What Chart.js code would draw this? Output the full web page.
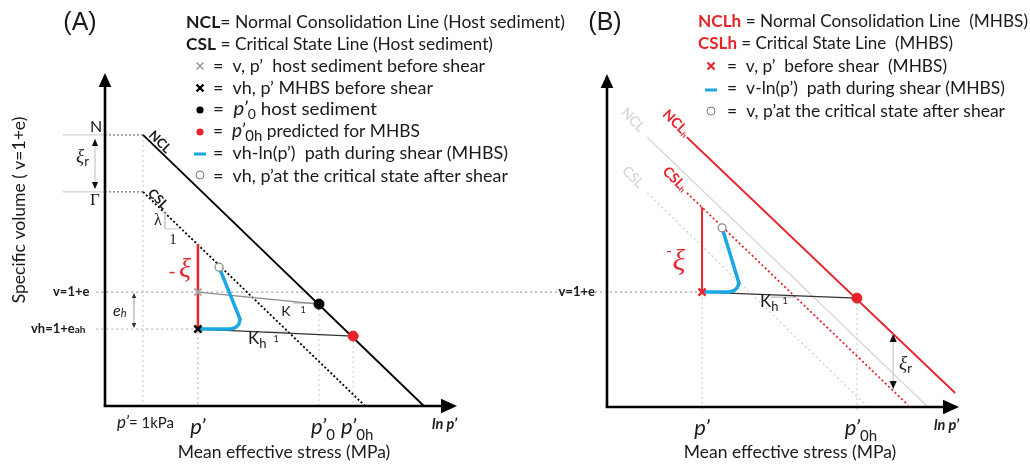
<!DOCTYPE html>
<html>
<head>
<meta charset="utf-8">
<script src="https://cdn.jsdelivr.net/npm/chart.js@4.4.0/dist/chart.umd.min.js"></script>
<style>
  body { margin: 0; background: #fff; width: 1030px; height: 464px; position: relative; overflow: hidden; }
  canvas { position: absolute; top: 0; }
  #chartA { left: 0; }
  #chartB { left: 520px; }
</style>
</head>
<body>
<canvas id="chartA" width="1030" height="464"></canvas>
<canvas id="chartB" width="510" height="464"></canvas>
<script>
// ---- data (schematic units: x = ln p', y = v) ----
// panel A
const aStress = [1.08, 2.64, 6.08, 7.05];          // p'=1kPa, p', p'0, p'0h
const aVolume = [8.14, 6.43, 3.42, 2.31];          // N, Gamma, v, vh
const aNCL = [{x: 1.08, y: 8.14}, {x: 9.06, y: 0}];
const aCSL = [{x: 1.08, y: 6.43}, {x: 7.39, y: 0}];
const aKappa = [{x: 2.64, y: 3.42}, {x: 6.08, y: 3.06}];
const aKappaH = [{x: 2.64, y: 2.31}, {x: 7.05, y: 2.10}];
const aXi = [{x: 2.64, y: 2.31}, {x: 2.64, y: 4.86}];
const aPath = [{x: 2.64, y: 2.31}, {x: 3.55, y: 2.31}, {x: 3.70, y: 2.35}, {x: 3.80, y: 2.45}, {x: 3.84, y: 2.60}, {x: 3.24, y: 4.17}];
const aHostBefore = [{x: 2.64, y: 3.42}];
const aMhbsBefore = [{x: 2.64, y: 2.31}];
const aP0 = [{x: 6.08, y: 3.06}];
const aP0h = [{x: 7.05, y: 2.10}];
const aCritical = [{x: 3.24, y: 4.17}];
const aLambdaMark = [{x: 1.70, y: 5.80}, {x: 1.70, y: 5.32}, {x: 2.18, y: 5.32}];
const aKMark = [{x: 5.35, y: 3.09}, {x: 6.0, y: 3.09}];
const aKhMark = [{x: 4.55, y: 2.22}, {x: 5.20, y: 2.22}];

// panel B
const bStress = [2.70, 7.10];                      // p', p'0h
const bVolume = [3.45];                            // v
const bNCLhost = [{x: 1.14, y: 8.10}, {x: 9.12, y: 0}];
const bCSLhost = [{x: 1.14, y: 6.43}, {x: 7.41, y: 0}];
const bNCLh = [{x: 2.27, y: 8.10}, {x: 9.89, y: 0.42}];
const bCSLh = [{x: 2.27, y: 6.43}, {x: 8.55, y: 0.06}];
const bKappaH = [{x: 2.70, y: 3.45}, {x: 7.10, y: 3.27}];
const bXi = [{x: 2.70, y: 3.45}, {x: 2.70, y: 6.00}];
const bPath = [{x: 2.70, y: 3.45}, {x: 3.45, y: 3.45}, {x: 3.60, y: 3.49}, {x: 3.70, y: 3.58}, {x: 3.75, y: 3.72}, {x: 3.27, y: 5.38}];
const bBefore = [{x: 2.70, y: 3.45}];
const bP0h = [{x: 7.10, y: 3.27}];
const bCritical = [{x: 3.27, y: 5.38}];
const bXiR = [{x: 8.13, y: 2.19}, {x: 8.13, y: 0.54}];
const bKhMark = [{x: 4.65, y: 3.30}, {x: 5.35, y: 3.30}];

const RED = '#e8242b';
const BLUE = '#1aa7e3';
const FONT = 'Lato, "Open Sans", sans-serif';
const INK = '#1a1a1a';

Chart.defaults.devicePixelRatio = 1;

function line(data, color, width, dash) {
  return {data: data, showLine: true, borderColor: color, borderWidth: width,
    borderDash: dash || [], pointRadius: 0, fill: false, clip: false, tension: 0};
}
function marker(data, style, r, color, fillColor, bw) {
  return {data: data, showLine: false, pointStyle: style, pointRadius: r,
    borderColor: color, backgroundColor: fillColor, borderWidth: bw, clip: false};
}

function txt(ctx, s, x, y, o) {
  o = o || {};
  ctx.save();
  ctx.font = o.font || ('16px ' + FONT);
  ctx.fillStyle = o.color || INK;
  ctx.textAlign = o.align || 'left';
  ctx.textBaseline = o.base || 'middle';
  if (o.rot) {
    ctx.translate(x, y);
    ctx.rotate(o.rot);
    ctx.fillText(s, 0, 0);
  } else {
    ctx.fillText(s, x, y);
  }
  const w = ctx.measureText(s).width;
  ctx.restore();
  return w;
}
// draw pieces one after another: [text, font, color, dy]
function runs(ctx, parts, x, y) {
  parts.forEach(function (p) {
    x += txt(ctx, p[0], x, y + (p[3] || 0), {font: p[1], color: p[2]});
  });
  return x;
}
function runsWidth(ctx, parts) {
  let w = 0;
  parts.forEach(function (p) { ctx.font = p[1]; w += ctx.measureText(p[0]).width; });
  return w;
}
// same as runs, squeezed/stretched to end at endX
function runsFit(ctx, parts, x, y, endX) {
  const f = (endX - x) / runsWidth(ctx, parts);
  ctx.save();
  ctx.translate(x, y);
  ctx.scale(f, 1);
  runs(ctx, parts, 0, 0);
  ctx.restore();
}
function head(ctx, x, y, dir, size, color) {
  ctx.save();
  ctx.fillStyle = color;
  ctx.beginPath();
  const s = size, h = size * 0.45;
  if (dir === 'up') { ctx.moveTo(x, y); ctx.lineTo(x - h, y + s); ctx.lineTo(x + h, y + s); }
  if (dir === 'down') { ctx.moveTo(x, y); ctx.lineTo(x - h, y - s); ctx.lineTo(x + h, y - s); }
  if (dir === 'right') { ctx.moveTo(x, y); ctx.lineTo(x - s, y - h); ctx.lineTo(x - s, y + h); }
  ctx.closePath();
  ctx.fill();
  ctx.restore();
}
function seg(ctx, x1, y1, x2, y2, color, w, dash) {
  ctx.save();
  ctx.strokeStyle = color;
  ctx.lineWidth = w;
  ctx.setLineDash(dash || []);
  ctx.beginPath();
  ctx.moveTo(x1, y1);
  ctx.lineTo(x2, y2);
  ctx.stroke();
  ctx.restore();
}
function drawAxes(chart) {
  const ctx = chart.ctx, a = chart.chartArea;
  seg(ctx, a.left, a.bottom, a.left, a.top + 10, '#000', 2.6);
  seg(ctx, a.left - 1.3, a.bottom, a.right - 10, a.bottom, '#000', 2.6);
  head(ctx, a.left, a.top, 'up', 14, '#000');
  head(ctx, a.right, a.bottom, 'right', 16, '#000');
}
function primeLabel(ctx, cx, y, sub) {
  const parts = [['p\u2019', 'italic 22px ' + FONT, INK, 0]];
  if (sub) parts.push([sub, '15px ' + FONT, INK, 8]);
  const w = runsWidth(ctx, parts);
  runs(ctx, parts, cx - w / 2 + (sub ? 4 : 0), y);
}
function crossIcon(ctx, x, y, color, w) {
  seg(ctx, x - 3.5, y - 3.5, x + 3.5, y + 3.5, color, w);
  seg(ctx, x - 3.5, y + 3.5, x + 3.5, y - 3.5, color, w);
}
function dotIcon(ctx, x, y, fill, stroke) {
  ctx.save();
  ctx.beginPath();
  ctx.arc(x, y, stroke ? 4 : 3.6, 0, Math.PI * 2);
  if (stroke) { ctx.fillStyle = '#fff'; ctx.fill(); ctx.strokeStyle = stroke; ctx.lineWidth = 1; ctx.stroke(); }
  else { ctx.fillStyle = fill; ctx.fill(); }
  ctx.restore();
}

const LEG = '17.5px ' + FONT;
const LEGB = 'bold 17.5px ' + FONT;
const PI_ = ['p\u2019', 'italic 19px ' + FONT, INK, 0];

function annotateA(chart) {
  const ctx = chart.ctx, sx = chart.scales.x, sy = chart.scales.y, a = chart.chartArea;
  const X = function (v) { return sx.getPixelForValue(v); };
  const Y = function (v) { return sy.getPixelForValue(v); };
  drawAxes(chart);

  txt(ctx, '(A)', 80, 23, {font: '25px "Liberation Sans", Arial, sans-serif', align: 'center'});

  // legend
  runsFit(ctx, [['NCL', LEGB], ['= Normal Consolidation Line (Host sediment)', LEG]], 186, 22, 565);
  runsFit(ctx, [['CSL', LEGB], [' = Critical State Line (Host sediment)', LEG]], 186, 44, 493);
  const lx = 200, tx = 213;
  crossIcon(ctx, lx, 66, '#9a9a9a', 1.6);
  runsFit(ctx, [['=  v, p\u2019  host sediment before shear', LEG]], tx, 66, 485);
  crossIcon(ctx, lx, 88, '#000', 2.3);
  runsFit(ctx, [['=  vh, p\u2019 MHBS before shear', LEG]], tx, 88, 433);
  dotIcon(ctx, lx, 110, '#000');
  runsFit(ctx, [['=  ', LEG], PI_, ['0', '13px ' + FONT, INK, 6], [' host sediment', LEG]], tx, 109, 377);
  dotIcon(ctx, lx, 132, RED);
  runsFit(ctx, [['=  ', LEG], PI_, ['0h', '15px ' + FONT, INK, 5], [' predicted for MHBS', LEG]], tx, 131, 420);
  seg(ctx, lx - 6, 154, lx + 6, 154, BLUE, 3);
  runsFit(ctx, [['=  vh-ln(p\u2019)  path during shear (MHBS)', LEG]], tx, 153, 508);
  dotIcon(ctx, lx, 175, null, '#777');
  runsFit(ctx, [['=  vh, p\u2019at the critical state after shear', LEG]], tx, 176, 508);

  // axis titles
  txt(ctx, 'Specific volume ( v=1+e)', 19, 210, {font: '17.5px ' + FONT, align: 'center', rot: -Math.PI / 2});
  txt(ctx, 'Mean effective stress (MPa)', 284, 452, {font: '17.5px ' + FONT, align: 'center'});

  // x labels
  runs(ctx, [['p\u2019', 'italic 17px ' + FONT], ['= 1kPa', '15px ' + FONT]], X(aStress[0]) - 26, a.bottom + 17);
  primeLabel(ctx, X(aStress[1]), a.bottom + 21, '');
  primeLabel(ctx, X(aStress[2]), a.bottom + 21, '0');
  primeLabel(ctx, X(aStress[3]), a.bottom + 21, '0h');
  txt(ctx, 'ln p\u2019', a.right, a.bottom + 18, {font: 'italic bold 14.5px ' + FONT, align: 'right'});

  // y labels
  txt(ctx, 'N', 96, Y(aVolume[0]) - 8, {font: '16px ' + FONT, align: 'center'});
  txt(ctx, '\u0393', 95, Y(aVolume[1]) + 9, {font: '17px "Liberation Serif", serif', align: 'center'});
  runs(ctx, [['v=1+e', 'bold 13px ' + FONT]], 53, Y(aVolume[2]));
  runs(ctx, [['vh=1+e', 'bold 13px ' + FONT], ['ah', 'bold 10px ' + FONT, INK, 1]], 31, Y(aVolume[3]));

  // xi_r arrow between N and Gamma
  const ax = 95;
  seg(ctx, ax, Y(aVolume[0]) + 4, ax, Y(aVolume[1]) - 4, '#bbb', 1);
  head(ctx, ax, Y(aVolume[0]) + 4, 'up', 7, '#111');
  head(ctx, ax, Y(aVolume[1]) - 3, 'down', 7, '#111');
  runs(ctx, [['\u03BE', 'italic 19px "Liberation Serif", serif'], ['r', '13px ' + FONT, INK, 5]], 76, 157);

  // e_h arrow
  const ex = 134;
  seg(ctx, ex, Y(aVolume[2]) + 2, ex, Y(aVolume[3]) - 2, '#999', 1);
  head(ctx, ex, Y(aVolume[2]) + 1, 'up', 5, '#333');
  head(ctx, ex, Y(aVolume[3]) - 1, 'down', 5, '#333');
  runs(ctx, [['e', 'italic 16px ' + FONT], ['h', 'italic 11px ' + FONT, INK, 2]], 113, 311);

  // rotated line labels
  txt(ctx, 'NCL', 160, 142, {font: 'bold 13px ' + FONT, align: 'center', rot: Math.PI / 4});
  txt(ctx, 'CSL', 158, 199, {font: 'bold 13px ' + FONT, align: 'center', rot: Math.PI / 4});
  txt(ctx, '\u03BB', 158, 221, {font: '16px "Liberation Serif", serif', align: 'center'});
  txt(ctx, '1', 173, 240, {font: '15px "Liberation Serif", serif', align: 'center'});

  // -xi
  txt(ctx, '-', 172, 272, {font: '20px ' + FONT, color: RED, align: 'center'});
  txt(ctx, '\u03BE', 185, 270, {font: 'italic 28px "Liberation Serif", serif', color: RED, align: 'center'});

  // kappa labels
  txt(ctx, 'K', 286, 311, {font: '14px ' + FONT, align: 'center'});
  txt(ctx, '1', 303, 310, {font: '9px ' + FONT, align: 'center'});
  runs(ctx, [['K', '17px ' + FONT], ['h', '13px ' + FONT, INK, 5]], 248, 339);
  txt(ctx, '1', 276, 339, {font: '9px ' + FONT, align: 'center'});
}

function annotateB(chart) {
  const ctx = chart.ctx, sx = chart.scales.x, sy = chart.scales.y, a = chart.chartArea;
  const X = function (v) { return sx.getPixelForValue(v); };
  const Y = function (v) { return sy.getPixelForValue(v); };
  drawAxes(chart);

  txt(ctx, '(B)', 85, 23, {font: '25px "Liberation Sans", Arial, sans-serif', align: 'center'});

  runsFit(ctx, [['NCLh', LEGB, RED], [' = Normal Consolidation Line  (MHBS)', LEG]], 178, 21, 508);
  runsFit(ctx, [['CSLh', LEGB, RED], [' = Critical State Line  (MHBS)', LEG]], 178, 43, 433);
  const lx = 191, tx = 207;
  crossIcon(ctx, lx, 66, RED, 2.2);
  runsFit(ctx, [['=  v, p\u2019  before shear  (MHBS)', LEG]], tx, 66, 427);
  seg(ctx, lx - 6, 90, lx + 6, 90, BLUE, 3);
  runsFit(ctx, [['=  v-ln(p\u2019)  path during shear (MHBS)', LEG]], tx, 88, 485);
  dotIcon(ctx, lx, 111, null, '#777');
  runsFit(ctx, [['=  v, p\u2019at the critical state after shear', LEG]], tx, 111, 485);

  txt(ctx, 'Mean effective stress (MPa)', 270, 452, {font: '17.5px ' + FONT, align: 'center'});
  primeLabel(ctx, X(bStress[0]), a.bottom + 21, '');
  primeLabel(ctx, X(bStress[1]), a.bottom + 21, '0h');
  txt(ctx, 'ln p\u2019', a.right, a.bottom + 18, {font: 'italic bold 14.5px ' + FONT, align: 'right'});
  txt(ctx, 'v=1+e', 75, Y(bVolume[0]), {font: 'bold 13px ' + FONT, align: 'right'});

  // rotated labels
  txt(ctx, 'NCL', 113, 120, {font: '14px ' + FONT, color: '#d2d2d2', align: 'center', rot: Math.PI / 4});
  txt(ctx, 'CSL', 113, 177, {font: '14px ' + FONT, color: '#d2d2d2', align: 'center', rot: Math.PI / 4});
  ctx.save();
  ctx.translate(145, 112);
  ctx.rotate(Math.PI / 4);
  runs(ctx, [['NCL', 'bold 14px ' + FONT, RED], ['h', 'bold 8px ' + FONT, RED, 3]], 0, 0);
  ctx.restore();
  ctx.save();
  ctx.translate(145, 169);
  ctx.rotate(Math.PI / 4);
  runs(ctx, [['CSL', 'bold 14px ' + FONT, RED], ['h', 'bold 8px ' + FONT, RED, 3]], 0, 0);
  ctx.restore();

  // -xi
  txt(ctx, '-', 149, 251, {font: '16px ' + FONT, color: RED, align: 'center'});
  txt(ctx, '\u03BE', 159, 262, {font: 'italic 30px "Liberation Serif", serif', color: RED, align: 'center'});

  runs(ctx, [['K', '17px ' + FONT], ['h', '13px ' + FONT, INK, 5]], 240, 302);
  txt(ctx, '1', 265, 301, {font: '9px ' + FONT, align: 'center'});

  // xi_r arrow heads
  const rx = X(bXiR[0].x);
  head(ctx, rx, Y(bXiR[0].y), 'up', 8, '#111');
  head(ctx, rx, Y(bXiR[1].y), 'down', 8, '#111');
  runs(ctx, [['\u03BE', 'italic 19px "Liberation Serif", serif'], ['r', '13px ' + FONT, INK, 5]], 379, 364);
}

function makeChart(id, datasets, pad, annotate) {
  return new Chart(document.getElementById(id), {
    type: 'scatter',
    data: {datasets: datasets},
    options: {
      responsive: false,
      animation: false,
      layout: {padding: pad},
      scales: {
        x: {type: 'linear', min: 0, max: 10, display: false},
        y: {type: 'linear', min: 0, max: 10, display: false}
      },
      plugins: {legend: {display: false}, tooltip: {enabled: false}}
    },
    plugins: [{id: 'notes', afterDraw: annotate}]
  });
}

// guide lines built from the data arrays
const GUIDE = '#c8c8c8';
const aGuides = [
  line([{x: -0.25, y: aVolume[2]}, {x: 11.8, y: aVolume[2]}], '#888', 1, [2, 3]),
  line([{x: -0.25, y: aVolume[3]}, {x: aStress[1], y: aVolume[3]}], '#aaa', 1, [2, 3]),
  line([{x: -1.2, y: aVolume[0]}, {x: 0, y: aVolume[0]}], GUIDE, 1),
  line([{x: -1.2, y: aVolume[1]}, {x: 0, y: aVolume[1]}], GUIDE, 1),
  line([{x: 0, y: aVolume[0]}, {x: aStress[0], y: aVolume[0]}], '#555', 1, [2, 2]),
  line([{x: 0, y: aVolume[1]}, {x: aStress[0], y: aVolume[1]}], '#555', 1, [2, 2]),
  line([{x: aStress[0], y: aVolume[0]}, {x: aStress[0], y: 0}], GUIDE, 1, [2, 3]),
  line([{x: aStress[1], y: aVolume[2]}, {x: aStress[1], y: 0}], '#aaa', 1, [2, 3]),
  line([{x: aStress[2], y: aP0[0].y}, {x: aStress[2], y: 0}], GUIDE, 1, [2, 3]),
  line([{x: aStress[3], y: aP0h[0].y}, {x: aStress[3], y: 0}], GUIDE, 1, [2, 3])
];

makeChart('chartA', [
  marker(aMhbsBefore, 'crossRot', 5, '#000', '#000', 2.6),
  marker(aHostBefore, 'crossRot', 5, '#a8a8a8', '#a8a8a8', 2),
  marker(aP0, 'circle', 5, '#000', '#000', 1),
  marker(aP0h, 'circle', 5, RED, RED, 1),
  marker(aCritical, 'circle', 4, '#888', '#fff', 1.2),
  line(aPath, BLUE, 3.5),
  line(aXi, RED, 2.5),
  line(aKappaH, '#333', 1.2),
  line(aKappa, '#8a8a8a', 1.3),
  line(aKMark, '#bbb', 1.2),
  line(aKhMark, '#bbb', 1.2),
  line(aLambdaMark, '#ccc', 1),
  line(aNCL, '#000', 1.8),
  line(aCSL, '#000', 1.8, [2, 2.2])
].concat(aGuides), {left: 105, right: 573, top: 73, bottom: 58}, annotateA);

const bGuides = [
  line([{x: -2.47, y: bVolume[0]}, {x: bStress[0], y: bVolume[0]}], '#888', 1, [2, 3]),
  line([{x: bStress[0], y: bVolume[0]}, {x: bStress[0], y: -0.15}], GUIDE, 1, [2, 3]),
  line([{x: bStress[1], y: bP0h[0].y}, {x: bStress[1], y: -0.15}], GUIDE, 1, [2, 3])
];

makeChart('chartB', [
  marker(bBefore, 'crossRot', 5, RED, RED, 2.4),
  marker(bP0h, 'circle', 5, RED, RED, 1),
  marker(bCritical, 'circle', 4, '#888', '#fff', 1.2),
  line(bPath, BLUE, 3.5),
  line(bXi, RED, 2),
  line(bKappaH, '#333', 1.2),
  line(bKhMark, '#bbb', 1.2),
  line(bXiR, '#ccc', 1.2),
  line(bNCLh, RED, 1.8),
  line(bCSLh, RED, 1.8, [2, 2.5]),
  line(bNCLhost, '#d6d6d6', 1.3),
  line(bCSLhost, '#d0d0d0', 1.3, [2, 3])
].concat(bGuides), {left: 87, right: 71, top: 74, bottom: 57}, annotateB);
</script>
</body>
</html>
